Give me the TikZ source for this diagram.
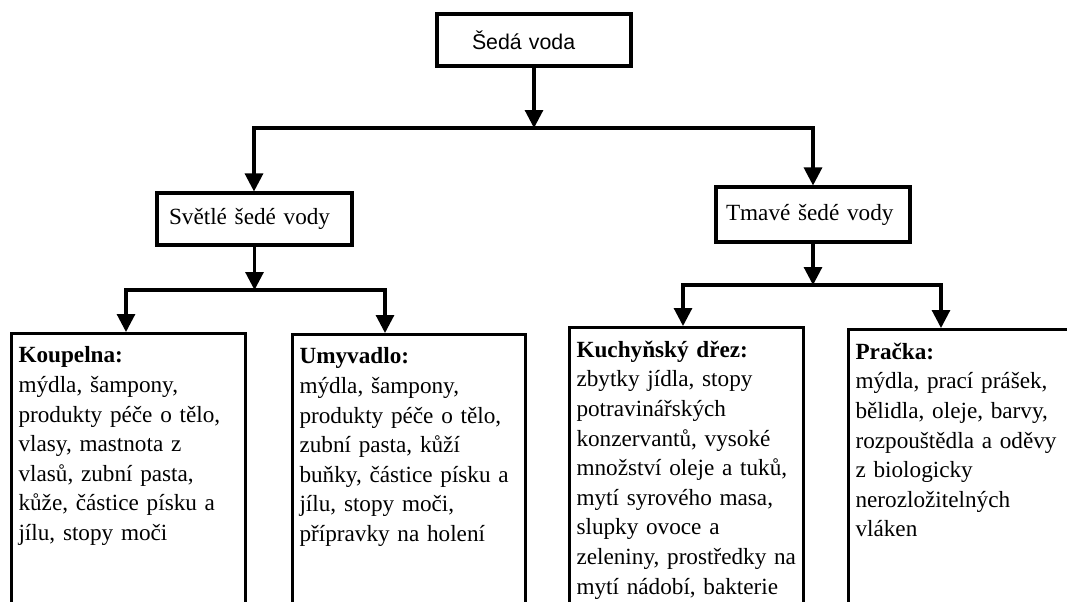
\documentclass[tikz,border=0pt]{standalone}
\usepackage{fontspec}
\setmainfont{Liberation Serif}
\newfontfamily\headfont{Liberation Sans}
\usetikzlibrary{arrows.meta}

\tikzset{every picture/.style={line width=2.3pt}}
\tikzset{
  topbox/.style={draw, rectangle, align=left, minimum height=39pt,
    font=\headfont\fontsize{16}{19}\selectfont},
  groupbox/.style={draw, rectangle, align=left, minimum height=39pt,
    font=\fontsize{17.4}{21}\selectfont},
  sourcebox/.style={draw, rectangle, align=left, anchor=north west,
    inner xsep=5.25pt, inner ysep=10pt, text depth=260pt,
    font=\fontsize{17.4}{22.2}\selectfont},
  arr/.style={-{Triangle[width=13.5pt,length=13.5pt]}}
}

\begin{document}
\begin{tikzpicture}[x=0.75pt,y=-0.75pt]
\useasboundingbox (0,0) rectangle (1067,601);
\clip (0,0) rectangle (1067,601);
% top level
\node[topbox, text width=93pt, inner xsep=26.25pt] (seda) at (534,40) {Šedá voda};
\node[groupbox, text width=128.25pt, inner xsep=9pt] (svetle) at (254.5,219) {Světlé šedé vody};
\node[groupbox, text width=130.5pt, inner xsep=7.5pt, minimum height=41.25pt] (tmave) at (813,214.5) {Tmavé šedé vody};
\coordinate (barTopL) at (254,128);
\coordinate (barTopR) at (813,128);
\draw[arr] (seda.south) -- (seda.south |- barTopL);
\draw[arr] (barTopR) -- (barTopL) -- (barTopL |- svetle.north);
\draw[arr] (barTopL) -- (barTopR) -- (barTopR |- tmave.north);
% sources
\node[sourcebox, text width=165pt] (koupelna) at (10,332) {\textbf{Koupelna:}\\
  mýdla, šampony,\\ produkty péče o tělo,\\ vlasy, mastnota z\\
  vlasů, zubní pasta,\\ kůže, částice písku a\\ jílu, stopy moči};
\node[sourcebox, text width=164.25pt] (umyvadlo) at (291,333) {\textbf{Umyvadlo:}\\
  mýdla, šampony,\\ produkty péče o tělo,\\ zubní pasta, kůží\\
  buňky, částice písku a\\ jílu, stopy moči,\\ přípravky na holení};
\node[sourcebox, text width=165pt] (kuchyn) at (568,326) {\textbf{Kuchyňský dřez:}\\
  zbytky jídla, stopy\\ potravinářských\\ konzervantů, vysoké\\
  množství oleje a tuků,\\ mytí syrového masa,\\ slupky ovoce a\\
  zeleniny, prostředky na\\ mytí nádobí, bakterie};
\node[sourcebox, text width=195pt] (pracka) at (847,328) {\textbf{Pračka:}\\
  mýdla, prací prášek,\\ bělidla, oleje, barvy,\\ rozpouštědla a oděvy\\
  z biologicky\\ nerozložitelných\\ vláken};
\coordinate (barLL) at (126,290);
\coordinate (barLR) at (385,290);
\coordinate (barRL) at (683,285);
\coordinate (barRR) at (941,285);
\draw[arr] (svetle.south) -- (svetle.south |- barLL);
\draw[arr] (barLR) -- (barLL) -- (barLL |- koupelna.north);
\draw[arr] (barLL) -- (barLR) -- (barLR |- umyvadlo.north);
\draw[arr] (tmave.south) -- (tmave.south |- barRL);
\draw[arr] (barRR) -- (barRL) -- (barRL |- kuchyn.north);
\draw[arr] (barRL) -- (barRR) -- (barRR |- pracka.north);
\end{tikzpicture}
\end{document}
